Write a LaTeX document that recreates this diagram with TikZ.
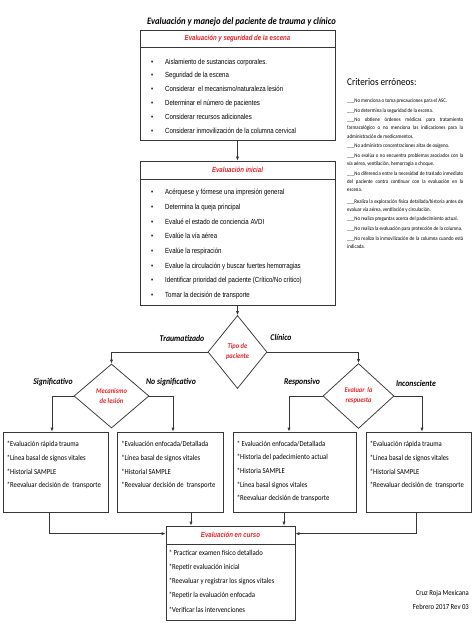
\documentclass[tikz,border=0pt]{standalone}
\usepackage{fontspec}
\setmainfont{Carlito}
\newfontfamily\arialn[FakeStretch=0.82]{Liberation Sans}
\newfontfamily\calibn[FakeStretch=0.88]{Carlito}
\usetikzlibrary{positioning,shapes.geometric,shadows,arrows.meta}
\definecolor{rojocr}{RGB}{226,35,40}
\definecolor{linea}{RGB}{55,55,55}
\tikzstyle{caja}=[draw=linea,line width=0.75pt,fill=white,inner sep=0pt,
  drop shadow={shadow xshift=0.9pt,shadow yshift=-0.9pt,fill=black!50,opacity=0.6}]
\tikzstyle{encab}=[font=\arialn\bfseries\itshape\fontsize{7.4}{9}\selectfont,text=rojocr,inner sep=0pt]
\tikzstyle{rombo}=[draw=linea,line width=0.75pt,diamond,fill=white,inner sep=0pt,align=center,
  font=\calibn\bfseries\itshape\fontsize{7.3}{10}\selectfont,text=rojocr]
\tikzstyle{etiqueta}=[font=\calibn\bfseries\itshape\fontsize{8.8}{10}\selectfont,inner sep=0pt]
\tikzstyle{vinetas}=[align=left,inner sep=0pt,anchor=north west]
\tikzstyle{asteriscos}=[align=left,inner sep=0pt,anchor=north west,font=\calibn\fontsize{7.6}{13.9}\selectfont]
\newcommand{\bul}{\makebox[14pt][l]{\textbullet}}
\newcommand{\newCaja}[4]{\node[caja,minimum width=#3,minimum height=#4](#1) at (#2) {};}
\newcommand{\newEncabezado}[3]{%
  \node[encab] (#1-t) at ([yshift=-#3/2]#1.north) {#2};
  \draw[draw=linea,line width=0.75pt] ([yshift=-#3]#1.north west) -- ([yshift=-#3]#1.north east);}

\begin{document}
\begin{tikzpicture}[x=1pt,y=-1pt,
    flecha/.style={draw=linea,line width=0.75pt,-{Latex[length=4pt,width=3.2pt]}}
    ]
    \useasboundingbox[fill=white] (0,0) rectangle (474,632);
    \node[font=\calibn\bfseries\itshape\fontsize{9.8}{11}\selectfont,anchor=east,inner sep=0pt]
      (titulo) at (336,22) {Evaluación y manejo del paciente de trauma y clínico};
    % cajas principales
    \newCaja{escena}{237.5,85}{195}{110}
    \newEncabezado{escena}{Evaluación y seguridad de la escena}{18}
    \node[vinetas,font=\arialn\fontsize{7.4}{13.8}\selectfont] (escena-l) at (151,58.5)
      {\bul Aislamiento de sustancias corporales.\\
       \bul Seguridad de la escena\\
       \bul Considerar \ el mecanismo/naturaleza lesión\\
       \bul Determinar el número de pacientes\\
       \bul Considerar recursos adicionales\\
       \bul Considerar inmovilización de la columna cervical};
    \newCaja{inicial}{237.5,233}{195}{144}
    \newEncabezado{inicial}{Evaluación inicial}{19}
    \node[vinetas,font=\arialn\fontsize{7.4}{14.7}\selectfont] (inicial-l) at (151,189)
      {\bul Acérquese y fórmese una impresión general\\
       \bul Determina la queja principal\\
       \bul Evalué el estado de conciencia AVDI\\
       \bul Evalúe la vía aérea\\
       \bul Evalúe la respiración\\
       \bul Evalue la circulación y buscar fuertes hemorragias\\
       \bul Identificar prioridad del paciente (Crítico/No crítico)\\
       \bul Tomar la decisión de transporte};
    % criterios
    \node[font=\calibn\fontsize{10.4}{12}\selectfont,anchor=west,inner sep=0pt] (crit-t) at (347,82) {Criterios erróneos:};
    \node[anchor=north west,inner sep=0pt,text width=116pt,align=justify,
      font=\calibn\fontsize{5.5}{8.2}\selectfont\setlength{\parskip}{1.4pt}] (crit) at (347,98.5)
      {\_\_\_No menciona o toma precauciones para el ASC.\par
       \_\_\_No determina la seguridad de la escena.\par
       \_\_\_No obtiene órdenes médicas para tratamiento\linebreak
       farmacológico o no menciona las indicaciones para la\linebreak
       administración de medicamentos.\par
       \_\_\_No administra concentraciones altas de oxígeno.\par
       \_\_\_No evalúa o no encuentra problemas asociados con la\linebreak
       vía aérea, ventilación, hemorragia o choque.\par
       \_\_\_No diferencia entre la necesidad de traslado inmediato\linebreak
       del paciente contra continuar con la evaluación en la\linebreak
       escena.\par\vspace{2pt}
       \_\_\_Realiza la exploración física detallada/historia antes de\linebreak
       evaluar vía aérea, ventilación y circulación.\par
       \_\_\_No realiza preguntas acerca del padecimiento actual.\par
       \_\_\_No realiza la evaluación para protección de la columna.\par
       \_\_\_No realiza la inmovilización de la columna cuando está\linebreak
       indicada.\par};
    % decisiones
    \node[rombo,minimum width=59,minimum height=73] (tipo) at (237.5,352) {Tipo de\\paciente};
    \node[rombo,minimum width=75,minimum height=64] (mecanismo) at (111.5,396) {Mecanismo\\de lesión};
    \node[rombo,minimum width=71,minimum height=65] (respuesta) at (358.5,396) {Evaluar \ la\\respuesta};
    \node[etiqueta] (trauma) at (182,338) {Traumatizado};
    \node[etiqueta] (clinico) at (281,337) {Clínico};
    \node[etiqueta] (signif) at (53,382) {Significativo};
    \node[etiqueta] (nosignif) at (171,382) {No significativo};
    \node[etiqueta] (responsivo) at (302,382) {Responsivo};
    \node[etiqueta] (inconsc) at (416,383) {Inconsciente};
    % cajas de abajo
    \newCaja{rapidaA}{55.5,472}{105}{80}
    \newCaja{enfocadaB}{170.5,472}{106}{80}
    \newCaja{enfocadaC}{294.5,472}{123}{80}
    \newCaja{rapidaD}{418.5,472}{105}{80}
    \node[asteriscos] (rapidaA-l) at ([xshift=4pt,yshift=-9pt]rapidaA.north west)
      {*Evaluación rápida trauma\\*Línea basal de signos vitales\\*Historial SAMPLE\\*Reevaluar decisión de \ transporte};
    \node[asteriscos] (enfocadaB-l) at ([xshift=4pt,yshift=-9pt]enfocadaB.north west)
      {*Evaluación enfocada/Detallada\\*Línea basal de signos vitales\\*Historial SAMPLE\\*Reevaluar decisión de \ transporte};
    \node[asteriscos,font=\calibn\fontsize{7.6}{13.6}\selectfont] (enfocadaC-l) at ([xshift=4pt,yshift=-9pt]enfocadaC.north west)
      {* Evaluación enfocada/Detallada\\*Historia del padecimiento actual\\*Historia SAMPLE\\*Línea basal signos vitales\\*Reevaluar decisión de transporte};
    \node[asteriscos] (rapidaD-l) at ([xshift=4pt,yshift=-9pt]rapidaD.north west)
      {*Evaluación rápida trauma\\*Línea basal de signos vitales\\*Historial SAMPLE\\*Reevaluar decisión de \ transporte};
    \newCaja{curso}{230.5,573}{129}{94}
    \newEncabezado{curso}{Evaluación en curso}{19}
    \node[asteriscos,font=\calibn\fontsize{7.6}{14.2}\selectfont] (curso-l) at ([xshift=3pt,yshift=-24pt]curso.north west)
      {* Practicar examen físico detallado\\*Repetir evaluación inicial\\*Reevaluar y registrar los signos vitales\\*Repetir la evaluación enfocada\\*Verificar las intervenciones};
    \node[font=\calibn\fontsize{7.6}{14}\selectfont,align=right,anchor=east,inner sep=0pt] (firma) at (469,600)
      {Cruz Roja Mexicana\\Febrero 2017 Rev 03};
    % conectores
    \draw[flecha] (escena) -- (inicial);
    \draw[flecha] (inicial) -- (tipo);
    \draw[flecha] (tipo.west) -| (mecanismo.north);
    \draw[flecha] (tipo.east) -| (respuesta.north);
    \draw[flecha] (mecanismo.west) -| ([xshift=-3.5pt]rapidaA.north);
    \draw[flecha] (mecanismo.east) -| ([xshift=2.5pt]enfocadaB.north);
    \draw[flecha] (respuesta.west) -| ([xshift=-5.5pt]enfocadaC.north);
    \draw[flecha] (respuesta.east) -| ([xshift=3.5pt]rapidaD.north);
    \draw[flecha] ([xshift=20.5pt]enfocadaB.south) -- ([xshift=20.5pt]enfocadaB.south |- curso.north);
    \draw[flecha] ([xshift=-10.5pt]enfocadaC.south) -- ([xshift=-10.5pt]enfocadaC.south |- curso.north);
    \draw[flecha] ([xshift=-6.5pt]rapidaA.south) |- ([yshift=-8pt]curso.north west);
    \draw[flecha] ([xshift=-2.5pt]rapidaD.south) |- ([yshift=-8pt]curso.north east);
  \end{tikzpicture}
\end{document}
